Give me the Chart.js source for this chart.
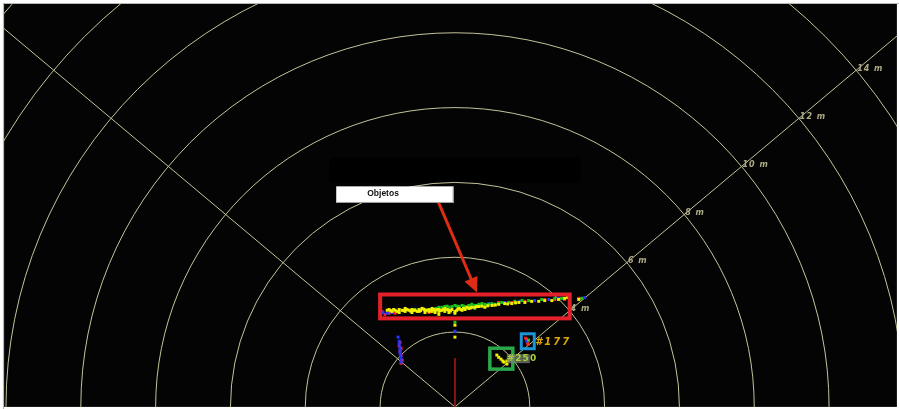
<!DOCTYPE html>
<html><head><meta charset="utf-8">
<script src="https://cdn.jsdelivr.net/npm/chart.js@4"></script>
<style>html,body{margin:0;padding:0;background:#fff;overflow:hidden}#wrap{width:899px;height:409px;position:relative}</style>
</head><body><div id="wrap"><canvas id="c" width="899" height="409"></canvas></div>
<script>
// ---- grid definition (metres) ----
const ringRadii = [2, 4, 6, 8, 10, 12, 14, 16];
const ringLabels = ['', '4 m', '6 m', '8 m', '10 m', '12 m', '14 m', '16 m'];
const rayAngles = [40, 140];
const labelRayAngle = 40;

// ---- scan points (x, y in metres, sensor at origin) ----
const yellowPts = [
 [-1.81,2.59],[-1.76,2.61],[-1.68,2.56],[-1.60,2.59],[-1.55,2.56],[-1.49,2.61],[-1.49,2.53],[-1.41,2.59],
 [-1.33,2.56],[-1.33,2.64],[-1.28,2.61],[-1.23,2.59],[-1.15,2.61],[-1.15,2.53],[-1.07,2.59],[-1.01,2.56],
 [-0.96,2.61],[-0.96,2.56],[-0.88,2.64],[-0.80,2.59],[-0.80,2.53],[-0.75,2.59],[-0.69,2.61],[-0.69,2.56],
 [-0.61,2.64],[-0.61,2.56],[-0.53,2.59],[-0.53,2.53],[-0.48,2.61],[-0.43,2.61],[-0.43,2.56],[-0.43,2.48],
 [-0.35,2.59],[-0.27,2.64],[-0.27,2.56],[-0.21,2.61],[-0.16,2.59],[-0.16,2.53],[-0.08,2.61],[0.00,2.56],
 [0.00,2.51],[0.05,2.59],[0.11,2.64],[0.19,2.59],[0.27,2.61],[0.32,2.67],[0.37,2.64],[0.45,2.67],
 [0.53,2.67],[0.64,2.69],[0.80,2.67],[0.99,2.72],[1.17,2.75],[1.33,2.77],[1.52,2.77],[1.71,2.80],
 [1.87,2.80],[2.05,2.83],[2.24,2.83],[2.40,2.85],[2.59,2.85],[2.77,2.88],[2.93,2.91],[3.01,2.93],
 [3.31,2.88],[0.00,2.19],[0.00,1.87],
 [-1.72,2.58],[-1.64,2.61],[-1.37,2.58],[-1.19,2.57],[-1.11,2.59],[-0.92,2.58],[-0.84,2.62],[-0.65,2.59],
 [-0.57,2.61],[-0.39,2.58],[-0.31,2.61],[-0.12,2.57],[0.08,2.62],[0.16,2.61],[0.23,2.64],[0.41,2.65],
 [0.58,2.69],[0.72,2.70],[0.88,2.71],[1.08,2.73],[1.41,2.76],[1.62,2.79],
 [1.12,1.39],[1.17,1.33],[1.23,1.28],[1.28,1.23],[1.31,1.20],[1.39,1.23],[1.39,1.15]
];
const greenPts = [
 [-0.51,2.64],[-0.43,2.67],[-0.35,2.67],[-0.27,2.69],[-0.16,2.67],[-0.08,2.69],[0.00,2.72],[0.11,2.69],
 [0.19,2.72],[0.27,2.69],[0.27,2.64],[0.37,2.72],[0.45,2.75],[0.53,2.72],[0.53,2.64],[0.64,2.75],
 [0.72,2.77],[0.80,2.75],[0.80,2.69],[0.91,2.75],[0.99,2.77],[1.07,2.75],[1.17,2.77],[1.25,2.80],
 [1.44,2.80],[1.60,2.83],[1.79,2.85],[1.97,2.85],[2.32,2.88],[2.67,2.91],[2.85,2.91],[3.39,2.91],
 [-0.21,2.70],[0.05,2.70],[0.23,2.70],[0.41,2.71],[0.60,2.72],[0.68,2.73],[0.86,2.73],[1.03,2.73],
 [0.00,2.27],[-1.33,2.61],[-1.07,2.61],[-0.80,2.61],[1.97,1.79]
];
const bluePts = [
 [-1.92,2.53],[-1.81,2.51],[-1.68,2.53],[-0.96,2.56],[-0.16,2.64],[0.27,2.67],[0.91,2.77],[1.33,2.80],
 [1.71,2.83],[2.13,2.85],[2.51,2.88],[2.77,2.91],[3.47,2.93],[0.00,2.03],
 [-1.52,1.87],[-1.49,1.76],[-1.49,1.68],[-1.47,1.60],[-1.47,1.52],[-1.47,1.44],[-1.44,1.36],[-1.44,1.28],
 [-1.44,1.20],[1.92,1.76]
];
const redPts = [
 [-1.95,2.56],[-1.87,2.48],[-1.76,2.51],[-1.60,2.51],[-0.69,2.53],[0.53,2.69],[1.17,2.80],[1.52,2.80],
 [1.87,2.83],[2.40,2.88],[2.67,2.88],[2.93,2.88],[3.31,2.91],
 [-1.47,1.73],[-1.49,1.63],[-1.44,1.57],[-1.47,1.49],[-1.44,1.39],[-1.41,1.25],[-1.44,1.17],
 [1.89,1.84],[1.92,1.81],[1.95,1.73],[1.95,1.68]
];
const headingLine = [[0,0],[0,1.31]];

// ---- detected objects: [x0, x1, y0, y1] in metres, with ids ----
const objectIds = ['', '#177', '#250'];
const objectBoxes = [[-2.0,3.067,2.373,3.013],[1.773,2.12,1.56,1.96],[0.933,1.547,1.013,1.573]];
const calloutText = 'Objetos';
const calloutBox = [-3.173,-0.035,5.467,5.912];
const calloutArrow = [[-0.613,5.893],[0.587,3.067]];
const shadowBox = [-3.36,3.36,6.0,6.69];

// ---- styles ----
const objColors = ['#e4202a','#1b95d8','#2aa84a'];
const objWidths = [4,3,3.5];
const toXY = a => a.map(p => ({x:p[0], y:p[1]}));

const bgPlugin = {
  id:'bgPlugin',
  beforeDraw(chart){
    const {ctx, chartArea:a, scales:{x,y}} = chart;
    ctx.save();
    ctx.fillStyle='#fff'; ctx.fillRect(0,0,chart.width,chart.height);
    ctx.fillStyle='#040404'; ctx.fillRect(a.left,a.top,a.right-a.left,a.bottom-a.top);
    ctx.strokeStyle='#b8b8b8'; ctx.lineWidth=1.2;
    ctx.beginPath(); ctx.moveTo(a.left-0.5,chart.height); ctx.lineTo(a.left-0.5,a.top-0.5); ctx.lineTo(chart.width,a.top-0.5); ctx.stroke();
    ctx.beginPath(); ctx.rect(a.left,a.top,a.right-a.left,a.bottom-a.top); ctx.clip();
    // darker shadow box
    ctx.fillStyle='#000';
    const sx0=x.getPixelForValue(shadowBox[0]), sx1=x.getPixelForValue(shadowBox[1]);
    const sy0=y.getPixelForValue(shadowBox[3]), sy1=y.getPixelForValue(shadowBox[2]);
    ctx.beginPath(); ctx.roundRect(sx0,sy0,sx1-sx0,sy1-sy0,5); ctx.fill();
    const cx=x.getPixelForValue(0), cy=y.getPixelForValue(0);
    const rp = r => x.getPixelForValue(r)-cx;
    ctx.strokeStyle='#c4c39a'; ctx.lineWidth=1;
    ringRadii.forEach(r=>{ctx.beginPath(); ctx.arc(cx,cy,rp(r),Math.PI,2*Math.PI); ctx.stroke();});
    rayAngles.forEach(d=>{const t=d*Math.PI/180; ctx.beginPath(); ctx.moveTo(cx,cy); ctx.lineTo(cx+Math.cos(t)*rp(25), cy-Math.sin(t)*rp(25)); ctx.stroke();});
    ctx.fillStyle='#aeaa86';
    ctx.font='italic bold 8px "DejaVu Sans"';
    ctx.letterSpacing='1px';
    ctx.textAlign='left'; ctx.textBaseline='middle';
    const t=labelRayAngle*Math.PI/180;
    ringRadii.forEach((r,i)=>{ if(!ringLabels[i]) return;
      ctx.fillText(ringLabels[i], cx+Math.cos(t)*rp(r)+1, cy-Math.sin(t)*rp(r)-1.5);
    });
    ctx.restore();
  },
  afterDatasetsDraw(chart){
    const {ctx, scales:{x,y}} = chart;
    ctx.save();
    objectBoxes.forEach((b,i)=>{
      const x0=x.getPixelForValue(b[0]), x1=x.getPixelForValue(b[1]);
      const y0=y.getPixelForValue(b[3]), y1=y.getPixelForValue(b[2]);
      ctx.strokeStyle=objColors[i]; ctx.lineWidth=objWidths[i];
      ctx.strokeRect(x0,y0,x1-x0,y1-y0);
    });
    // labels
    ctx.textAlign='left'; ctx.textBaseline='middle';
    ctx.letterSpacing='2px';
    ctx.font='italic bold 10px "DejaVu Sans"';
    {
      const b=objectBoxes[1];
      ctx.fillStyle='#dba60a';
      ctx.fillText(objectIds[1], x.getPixelForValue(b[1])+1, y.getPixelForValue((b[2]+b[3])/2)+1);
    }
    {
      const b=objectBoxes[2];
      const lx=x.getPixelForValue(b[1])-6, ly=y.getPixelForValue((b[2]+b[3])/2);
      ctx.font='bold 9px "DejaVu Sans"';
      ctx.letterSpacing='1px';
      ctx.fillStyle='rgba(120,130,110,0.75)';
      ctx.fillRect(lx,ly-4.5,23,9);
      ctx.fillStyle='#a8d040';
      ctx.fillText(objectIds[2], lx, ly);
    }
    ctx.letterSpacing='0px';
    // arrow
    const ax0=x.getPixelForValue(calloutArrow[0][0]), ay0=y.getPixelForValue(calloutArrow[0][1]);
    const ax1=x.getPixelForValue(calloutArrow[1][0]), ay1=y.getPixelForValue(calloutArrow[1][1]);
    const ang=Math.atan2(ay1-ay0, ax1-ax0);
    ctx.strokeStyle='#e02c14'; ctx.fillStyle='#e02c14'; ctx.lineWidth=3;
    ctx.beginPath(); ctx.moveTo(ax0,ay0); ctx.lineTo(ax1-Math.cos(ang)*10, ay1-Math.sin(ang)*10); ctx.stroke();
    ctx.beginPath(); ctx.moveTo(ax1,ay1);
    ctx.lineTo(ax1-Math.cos(ang)*15+Math.sin(ang)*7, ay1-Math.sin(ang)*15-Math.cos(ang)*7);
    ctx.lineTo(ax1-Math.cos(ang)*15-Math.sin(ang)*7, ay1-Math.sin(ang)*15+Math.cos(ang)*7);
    ctx.closePath(); ctx.fill();
    // callout
    const bx0=x.getPixelForValue(calloutBox[0]), bx1=x.getPixelForValue(calloutBox[1]);
    const by0=y.getPixelForValue(calloutBox[3]), by1=y.getPixelForValue(calloutBox[2]);
    ctx.fillStyle='#fff'; ctx.fillRect(bx0,by0,bx1-bx0,by1-by0);
    ctx.strokeStyle='#9a9a9a'; ctx.lineWidth=1;
    ctx.beginPath(); ctx.moveTo(bx1-0.5,by0); ctx.lineTo(bx1-0.5,by1-0.5); ctx.lineTo(bx0,by1-0.5); ctx.stroke();
    ctx.fillStyle='#111'; ctx.font='bold 8.5px "Liberation Sans"';
    ctx.textAlign='left'; ctx.textBaseline='middle';
    ctx.fillText(calloutText, bx0+31, (by0+by1)/2-0.5);
    ctx.restore();
  }
};

const ptDs = (data,color) => ({type:'scatter', data:toXY(data), backgroundColor:color, borderWidth:0, pointStyle:'rect', pointRadius:2.1, pointHoverRadius:2.1});

new Chart(document.getElementById('c'), {
  type:'scatter',
  data:{datasets:[
    {type:'line', data:toXY(headingLine), borderColor:'#8a1414', borderWidth:2, pointRadius:0, fill:false},
    ptDs(yellowPts,'#f2f200'),
    ptDs(greenPts,'#1fc41f'),
    ptDs(bluePts,'#2b35ff'),
    ptDs(redPts,'#ff2222')
  ]},
  options:{
    responsive:false, animation:false, devicePixelRatio:1,
    layout:{padding:{left:4, top:4, right:0, bottom:0}},
    scales:{
      x:{type:'linear', display:false, min:-12.053, max:11.813},
      y:{type:'linear', display:false, min:0, max:10.8}
    },
    plugins:{legend:{display:false}, tooltip:{enabled:false}}
  },
  plugins:[bgPlugin]
});
</script></body></html>
